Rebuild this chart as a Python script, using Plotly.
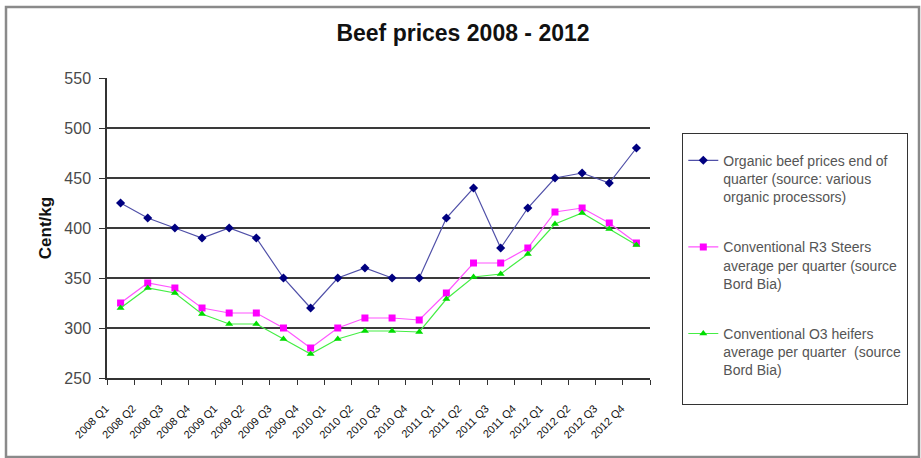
import plotly.graph_objects as go

# Quarter labels along the x axis
quarters = [
    "2008 Q1", "2008 Q2", "2008 Q3", "2008 Q4",
    "2009 Q1", "2009 Q2", "2009 Q3", "2009 Q4",
    "2010 Q1", "2010 Q2", "2010 Q3", "2010 Q4",
    "2011 Q1", "2011 Q2", "2011 Q3", "2011 Q4",
    "2012 Q1", "2012 Q2", "2012 Q3", "2012 Q4",
]

# Prices in cent/kg
organic = [425, 410, 400, 390, 400, 390, 350, 320, 350, 360,
           350, 350, 410, 440, 380, 420, 450, 455, 445, 480]
r3_steers = [325, 345, 340, 320, 315, 315, 300, 280, 300, 310,
             310, 308, 335, 365, 365, 380, 416, 420, 405, 385]
o3_heifers = [320, 340, 335, 314, 304, 304, 289, 274, 289, 297,
              297, 296, 329, 351, 354, 374, 404, 415, 399, 383]

y_ticks = [250, 300, 350, 400, 450, 500, 550]
grid_vals = [300, 350, 400, 450, 500]

names = [
    "Organic beef prices end of<br>quarter (source: various<br>organic processors)",
    "Conventional R3 Steers<br>average per quarter (source<br>Bord Bia)",
    "Conventional O3 heifers<br>average per quarter  (source<br>Bord Bia)<br> ",
]

FONT = "Arial, 'Liberation Sans', sans-serif"

W, H = 921, 458
L, R, T, B = 107, 650, 78, 378  # plot area in pixels

fig = go.Figure()

fig.add_trace(go.Scatter(
    x=quarters, y=organic, name=names[0], mode="lines+markers",
    line=dict(color="#5050a8", width=1.2),
    marker=dict(symbol="diamond", size=7, color="#000080"),
    legendgroup="a",
))
fig.add_trace(go.Scatter(
    x=quarters, y=r3_steers, name=names[1], mode="lines+markers",
    line=dict(color="#ff55ff", width=1.2),
    marker=dict(symbol="square", size=7, color="#ff00ff"),
    legendgroup="b",
))
fig.add_trace(go.Scatter(
    x=quarters, y=o3_heifers, name=names[2], mode="lines+markers",
    line=dict(color="#44ee44", width=1.2),
    marker=dict(symbol="triangle-up", size=7, color="#00dd00"),
    legendgroup="c",
))

pw, ph = R - L, B - T


def px_x(x):
    return (x - L) / pw


def px_y(y):
    return (B - y) / ph


# Outer chart frame
fig.add_shape(
    type="rect", xref="paper", yref="paper",
    x0=px_x(6), x1=px_x(919), y0=px_y(457), y1=px_y(7),
    line=dict(color="#8a8a8a", width=2.5), fillcolor="rgba(0,0,0,0)",
    layer="below",
)

fig.update_layout(
    width=W, height=H,
    margin=dict(l=L, r=W - R, t=T, b=H - B, pad=0),
    paper_bgcolor="white", plot_bgcolor="white",
    font=dict(family=FONT, color="#222"),
    title=dict(
        text="<b>Beef prices 2008 - 2012</b>",
        x=463 / W, xref="container", xanchor="center",
        y=1 - 33 / H, yref="container", yanchor="middle",
        font=dict(family=FONT, size=23, color="#111"),
    ),
    xaxis=dict(
        type="category", automargin=False,
        range=[-0.5, len(quarters) - 0.5],
        showline=True, linecolor="#333", linewidth=1.5,
        ticks="outside", tickson="boundaries", ticklen=5,
        tickcolor="#333", tickwidth=1.3,
        tickangle=-45, tickfont=dict(size=11, color="#111"),
        ticklabelstandoff=18, ticklabelshift=-15,
        showgrid=False,
    ),
    yaxis=dict(
        range=[250, 550], tickvals=y_ticks, automargin=False,
        showline=True, linecolor="#333", linewidth=1.5,
        ticks="outside", ticklen=6, tickcolor="#333", tickwidth=1.3,
        tickfont=dict(size=16, color="#4a4a4a"),
        ticklabelstandoff=5,
        showgrid=False, zeroline=False,
        title=dict(text="<b>Cent/kg</b>", font=dict(size=17, color="#111"),
                   standoff=8),
        minor=dict(tickvals=grid_vals, showgrid=True, gridcolor="#3a3a3a",
                   gridwidth=1.5, ticklen=0),
    ),
    legend=dict(
        x=px_x(682), y=px_y(133), xanchor="left", yanchor="top",
        bordercolor="#333", borderwidth=1.3, bgcolor="white",
        font=dict(size=14, color="#555", family=FONT),
        title=dict(text="&nbsp;", font=dict(size=8)),
        valign="top", tracegroupgap=29, traceorder="grouped",
    ),
    showlegend=True,
)

fig.write_html("out.html")
